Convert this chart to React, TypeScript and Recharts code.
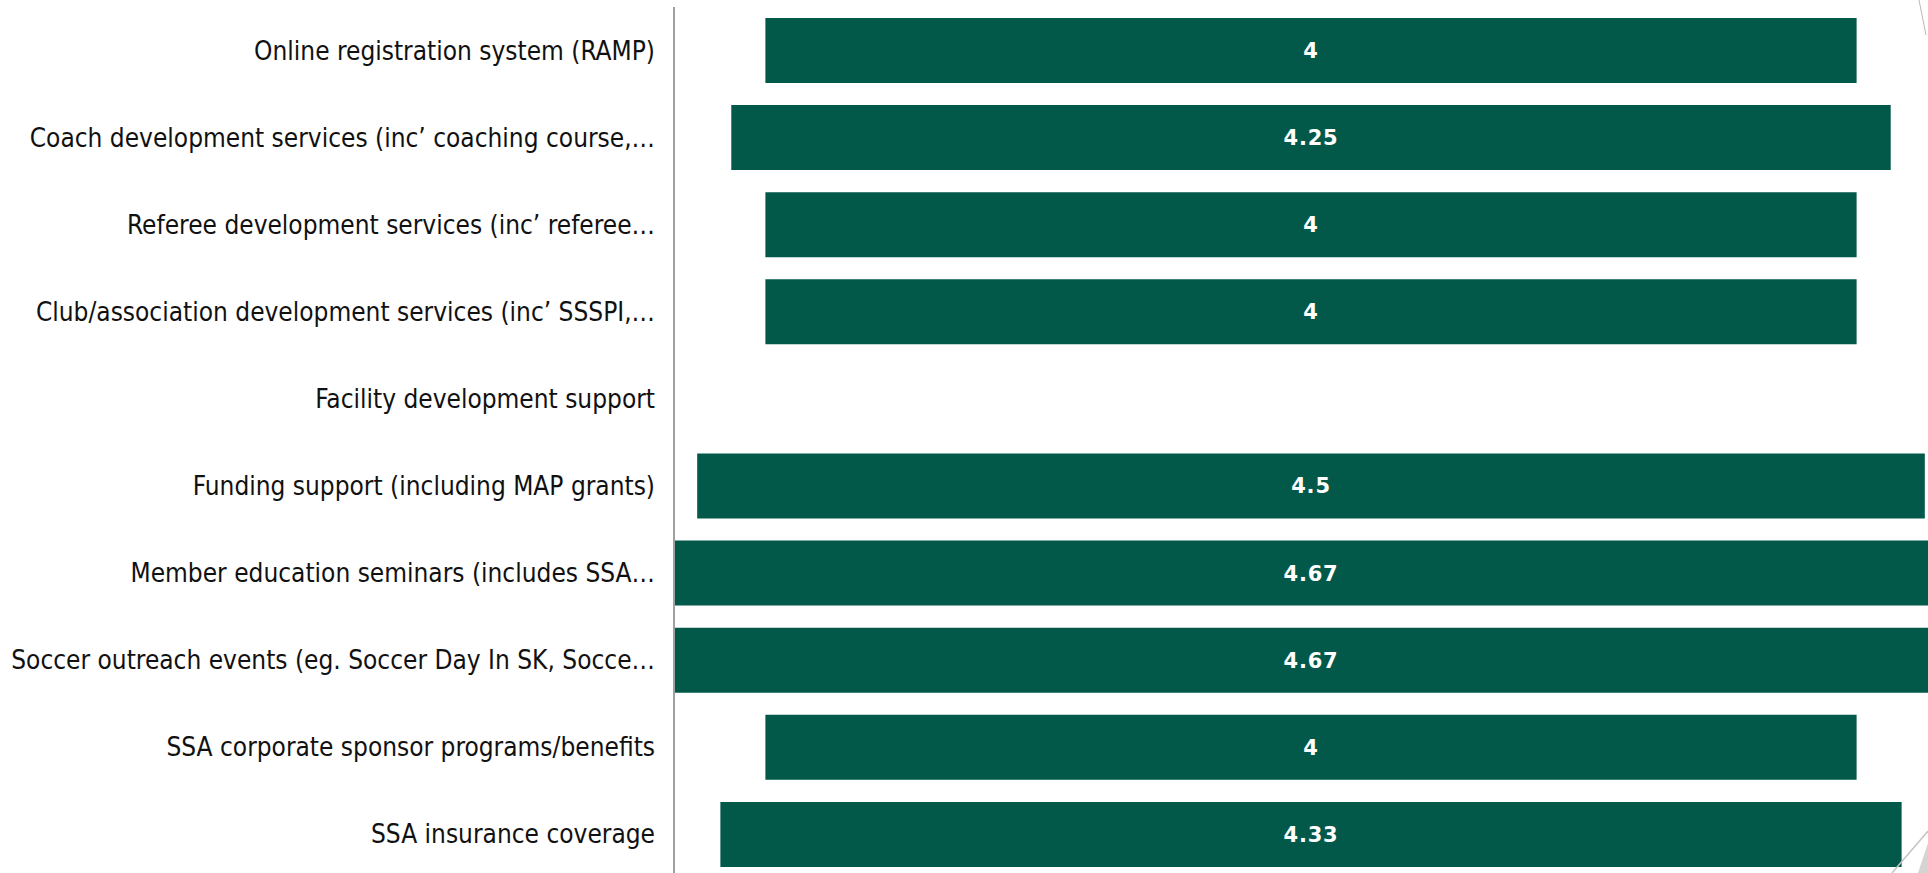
import React from 'react';
import { BarChart, Bar, XAxis, YAxis, LabelList } from 'recharts';

const services = [
  'Online registration system (RAMP)',
  'Coach development services (inc’ coaching course,…',
  'Referee development services (inc’ referee…',
  'Club/association development services (inc’ SSSPI,…',
  'Facility development support',
  'Funding support (including MAP grants)',
  'Member education seminars (includes SSA…',
  'Soccer outreach events (eg. Soccer Day In SK, Socce…',
  'SSA corporate sponsor programs/benefits',
  'SSA insurance coverage',
];

const ratings: (number | null)[] = [4, 4.25, 4, 4, null, 4.5, 4.67, 4.67, 4, 4.33];

const maxRating = 4.67;

// invisible spacer pushes each bar so they sit centred on the same line
const chartData = services.map((name, i) => {
  const v = ratings[i];
  return {
    name,
    spacer: v == null ? null : (maxRating - v) / 2,
    rating: v,
  };
});

const labelFont = "'DejaVu Sans Condensed', 'DejaVu Sans', sans-serif";

const ServiceTick = (props: any) => {
  const { x, y, payload } = props;
  return (
    <text
      x={x}
      y={y}
      dy={9}
      textAnchor="end"
      fill="#111111"
      fontSize={26}
      fontFamily={labelFont}
      style={{ fontStretch: 'condensed' }}
    >
      {payload.value}
    </text>
  );
};

export default function App() {
  return (
    <div
      style={{
        position: 'absolute',
        left: 0,
        top: 0,
        width: 1928,
        height: 873,
        overflow: 'hidden',
        background: '#ffffff',
      }}
    >
      <BarChart
        width={1948}
        height={878}
        data={chartData}
        layout="vertical"
        margin={{ top: 7, right: 0, bottom: 0, left: 0 }}
      >
        <XAxis type="number" domain={[0, maxRating]} hide />
        <YAxis
          type="category"
          dataKey="name"
          width={674}
          axisLine={{ stroke: '#a0a0a0', strokeWidth: 2 }}
          tickLine={false}
          tickMargin={13}
          tick={<ServiceTick />}
          interval={0}
        />
        <Bar dataKey="spacer" stackId="s" fill="transparent" barSize={65} isAnimationActive={false} />
        <Bar dataKey="rating" stackId="s" fill="#02594a" barSize={65} isAnimationActive={false}>
          <LabelList
            dataKey="rating"
            position="center"
            fill="#ffffff"
            fontSize={21}
            fontWeight="bold"
            fontFamily="'DejaVu Sans', sans-serif"
            style={{ letterSpacing: 0.8 }}
          />
        </Bar>
      </BarChart>
      <svg
        width={40}
        height={60}
        style={{ position: 'absolute', right: 0, bottom: 0 }}
      >
        <polyline points="4,60 40,18" fill="none" stroke="#c4c4c4" strokeWidth={1.5} />
        <polygon points="40,30 40,60 30,60" fill="#d4d4d4" />
      </svg>
      <svg
        width={12}
        height={40}
        style={{ position: 'absolute', right: 0, top: 0 }}
      >
        <line x1={3} y1={0} x2={10} y2={35} stroke="#b8b8b8" strokeWidth={1} />
      </svg>
    </div>
  );
}
